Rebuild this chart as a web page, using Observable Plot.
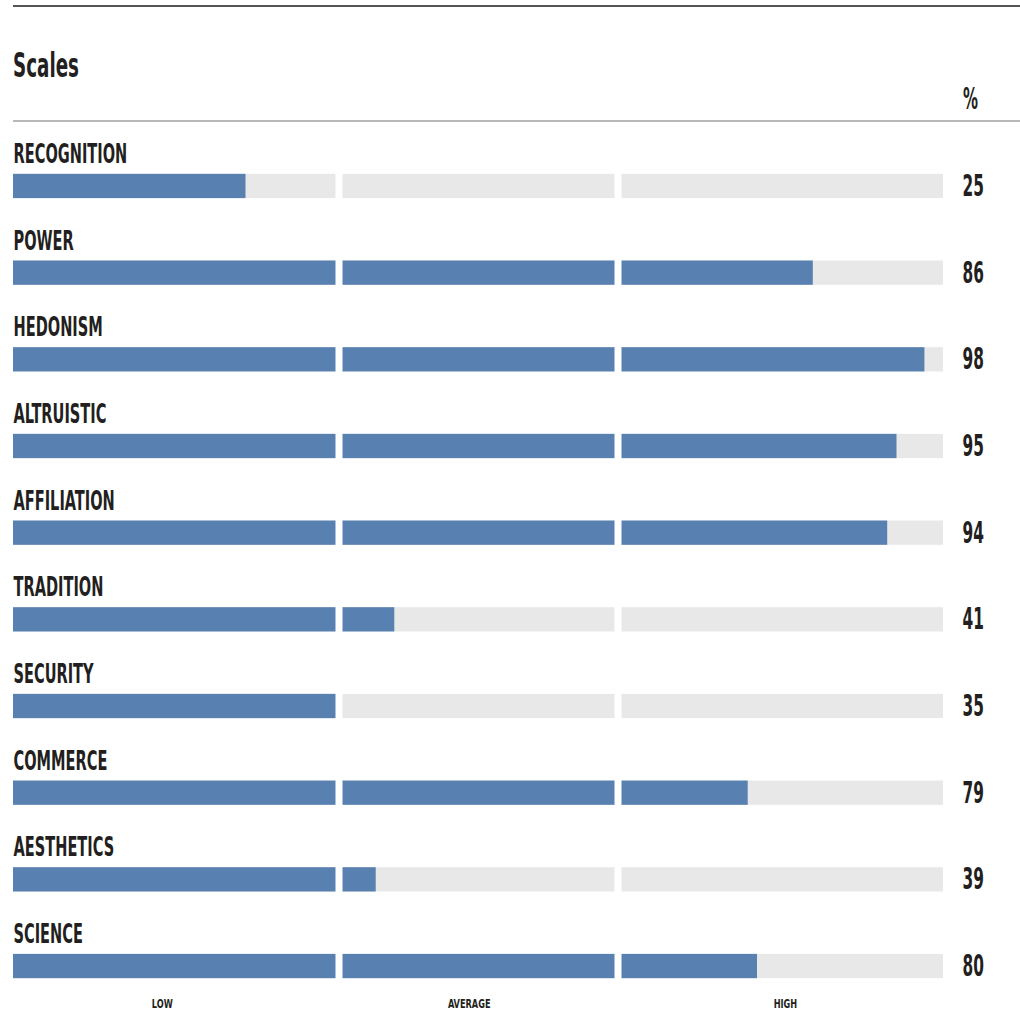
<!DOCTYPE html>
<html>
<head>
<meta charset="utf-8">
<script src="https://cdn.jsdelivr.net/npm/d3@7"></script>
<script src="https://cdn.jsdelivr.net/npm/@observablehq/plot@0.6"></script>
<style>
  body { margin: 0; background: #fff; }
  #wrap { position: relative; width: 1020px; height: 1010px; overflow: hidden;
          font-family: "Liberation Sans Narrow", "DejaVu Sans Condensed", sans-serif; color: #231f20; }
  .rule-top { position: absolute; top: 5px; left: 13px; right: 0; height: 2px; background: #555; }
  .rule-mid { position: absolute; top: 120px; left: 13px; right: 0; height: 2px; background: #b8b8b8; }
  .title { position: absolute; left: 13px; top: 45px; font-size: 34px; line-height: 40px; font-weight: bold;
           transform-origin: 0 50%; white-space: nowrap; display: inline-block; }
  .pct { position: absolute; left: 963px; top: 82px; font-size: 30px; line-height: 34px; font-weight: bold;
         transform-origin: 0 50%; display: inline-block; }
  #chart { position: absolute; left: 0; top: 125px; }
</style>
</head>
<body>
<div id="wrap">
  <div class="rule-top"></div>
  <div class="title" id="title">Scales</div>
  <div class="pct" id="pct">%</div>
  <div class="rule-mid"></div>
  <div id="chart"></div>
</div>
<script>
const categories = ["RECOGNITION", "POWER", "HEDONISM", "ALTRUISTIC", "AFFILIATION",
                    "TRADITION", "SECURITY", "COMMERCE", "AESTHETICS", "SCIENCE"];
const values = [25, 86, 98, 95, 94, 41, 35, 79, 39, 80];
const levelBreaks = [35, 65];
const levelLabels = ["LOW", "AVERAGE", "HIGH"];
const levelTicks = [16, 49, 83];

const data = categories.map((name, i) => ({name, value: values[i]}));

const chart = Plot.plot({
  width: 1020,
  height: 885,
  marginLeft: 13,
  marginRight: 77,
  marginTop: 31.5,
  marginBottom: 14.5,
  style: {fontFamily: '"Liberation Sans Narrow", "DejaVu Sans Condensed", sans-serif', color: "#231f20", background: "#fff"},
  x: {domain: [0, 100]},
  y: {domain: categories, paddingInner: 0.72, paddingOuter: 0.2, round: false, axis: null},
  marks: [
    Plot.barX(data, {y: "name", x1: 0, x2: 100, fill: "#e8e8e8"}),
    Plot.barX(data, {y: "name", x1: 0, x2: "value", fill: "#5880b0"}),
    Plot.ruleX(levelBreaks, {stroke: "#fff", strokeWidth: 7}),
    Plot.text(data, {y: "name", x: 0, text: "name", dy: -32, textAnchor: "start",
                     fontSize: 27, fontWeight: "bold", fill: "#231f20"}),
    Plot.text(data, {y: "name", x: 100, text: d => String(d.value), dx: 19, textAnchor: "start",
                     fontSize: 30, fontWeight: "bold", fill: "#231f20"}),
    Plot.axisX(levelTicks, {tickSize: 0, tickPadding: 3, fontSize: 13, fontWeight: "bold", label: null,
                            tickFormat: d => levelLabels[levelTicks.indexOf(d)]})
  ]
});
document.getElementById("chart").appendChild(chart);

// condense the glyphs to mimic a narrow display face
function squeeze(nodes, f) {
  nodes.forEach(t => {
    const w = t.getComputedTextLength();
    if (w > 0) {
      t.setAttribute("textLength", (w * f).toFixed(1));
      t.setAttribute("lengthAdjust", "spacingAndGlyphs");
    }
  });
}
const textGroups = chart.querySelectorAll('g[aria-label="text"]');
squeeze(textGroups[0].querySelectorAll("text"), 0.6);
squeeze(textGroups[1].querySelectorAll("text"), 0.57);
squeeze(chart.querySelectorAll('g[aria-label="x-axis tick label"] text'), 0.7);

function fitWidth(el, target) {
  const w = el.getBoundingClientRect().width;
  el.style.transform = `scaleX(${(target / w).toFixed(3)})`;
}
fitWidth(document.getElementById("title"), 66);
fitWidth(document.getElementById("pct"), 15);
</script>
</body>
</html>
